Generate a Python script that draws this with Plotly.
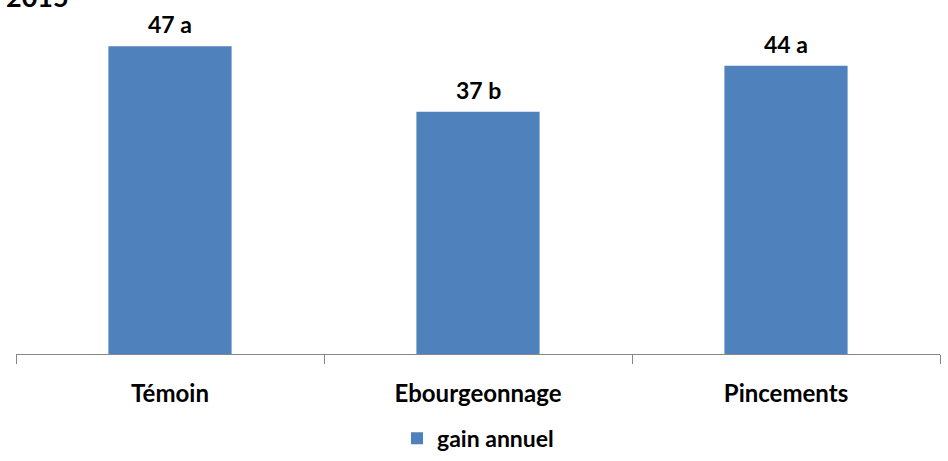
import plotly.graph_objects as go

categories = ["Témoin", "Ebourgeonnage", "Pincements"]
values = [47, 37, 44]
letters = ["a", "b", "a"]
series_name = "gain annuel"

FONT = "Lato, Open Sans, Arial"
BAR = "#4F81BD"

fig = go.Figure()
fig.add_trace(go.Bar(
    x=categories, y=values, name=f"<b>{series_name}</b>",
    marker=dict(color=BAR, line=dict(width=0)),
    width=0.4,
))

for c, v, l in zip(categories, values, letters):
    fig.add_annotation(x=c, y=v, text=f"<b>{v} {l}</b>", showarrow=False,
                       yanchor="bottom", yshift=6,
                       font=dict(family=FONT, size=23, color="black"))

fig.add_annotation(xref="paper", yref="paper", x=0, y=1, xshift=-12, yshift=5,
                   xanchor="left", yanchor="bottom", text="<b>2015</b>",
                   showarrow=False, font=dict(family=FONT, size=27, color="black"))

fig.update_layout(
    width=948, height=461,
    margin=dict(l=16, r=8, t=20, b=107, autoexpand=False),
    plot_bgcolor="white", paper_bgcolor="white",
    showlegend=True,
    legend=dict(orientation="h", x=0.5, xanchor="center", y=-0.188, yanchor="top",
                font=dict(family=FONT, size=23, color="black")),
    xaxis=dict(showline=True, linecolor="#868686", linewidth=1, automargin=False,
               ticks="outside", tickson="boundaries", ticklen=9, tickcolor="#868686",
               tickfont=dict(family=FONT, size=24, color="black"),
               ticklabelstandoff=18, showgrid=False),
    yaxis=dict(range=[0, 51], visible=False, showgrid=False),
    font=dict(family=FONT),
)
fig.update_xaxes(ticktext=[f"<b>{c}</b>" for c in categories], tickvals=categories)

fig.write_html("out.html", config={"displayModeBar": False},
               post_script="document.body.style.margin='0';document.body.style.overflow='hidden';")
